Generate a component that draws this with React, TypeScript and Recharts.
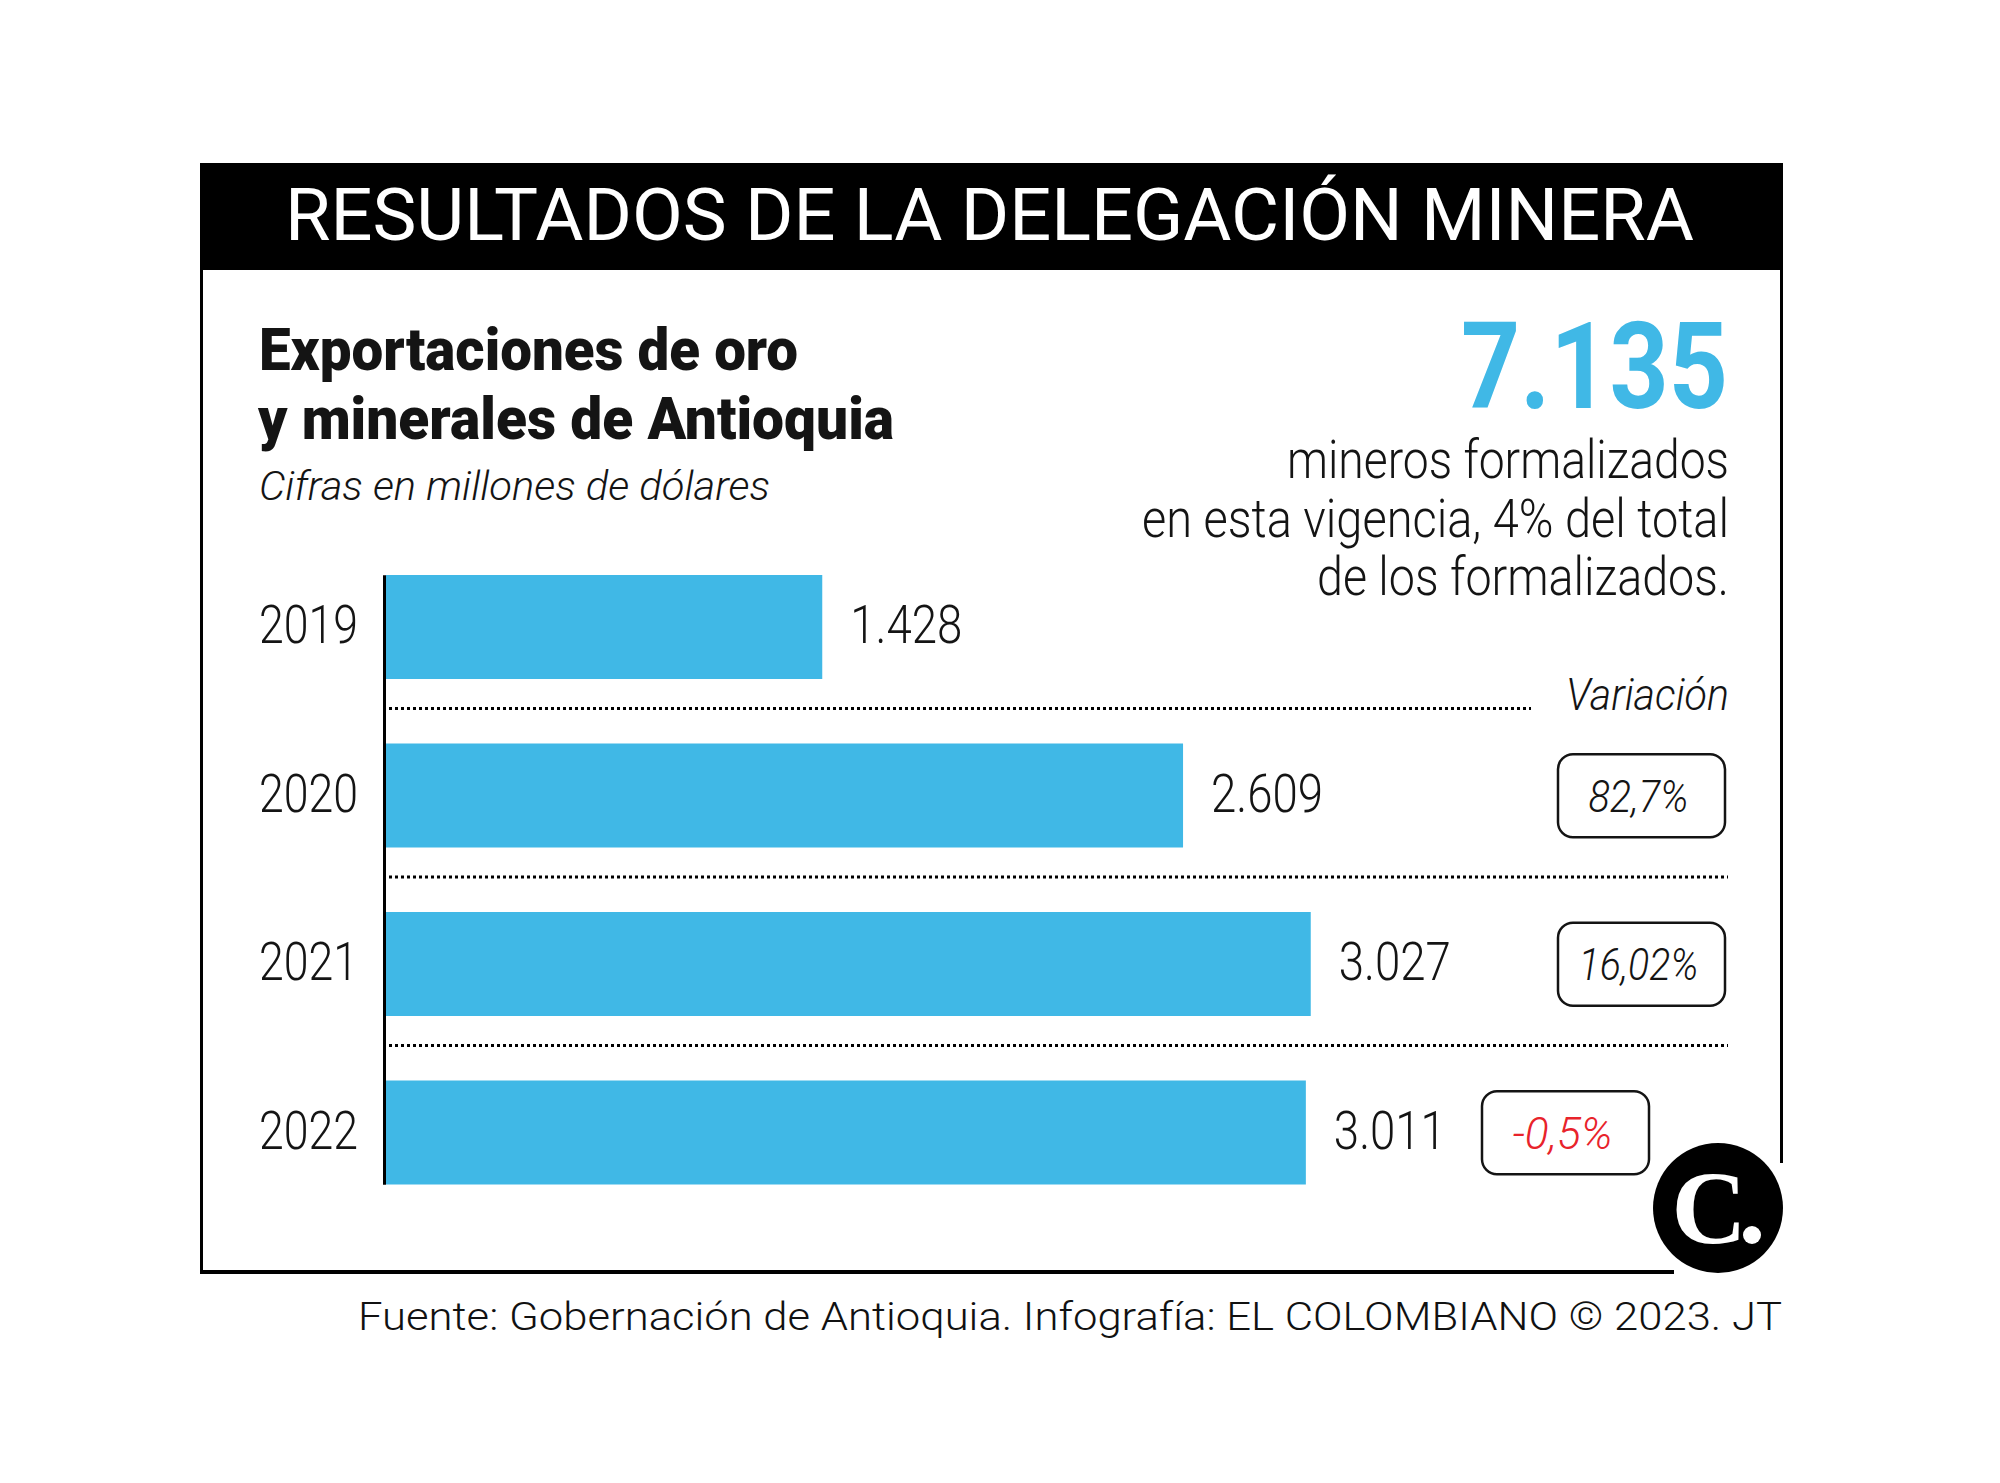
import React from "react";
import { Bar, BarChart, LabelList, XAxis, YAxis } from "recharts";

const YEARS = ["2019", "2020", "2021", "2022"];
const EXPORTS = [1428, 2609, 3027, 3011];
const VARIATION = [null, "82,7%", "16,02%", "-0,5%"];
const X_TICKS = [0, 4000];

const data = YEARS.map((year, i) => ({ year, value: EXPORTS[i], variation: VARIATION[i] }));

const BLUE = "#40B8E6";
const INK = "#141414";
const RED = "#E8232B";

// layout of the plot area
const W = 2000;
const H = 1483;
const PLOT_LEFT = 386;
const PLOT_WIDTH = 1222;
const PLOT_TOP = 543;
const PLOT_HEIGHT = 674;
const BAND = PLOT_HEIGHT / YEARS.length;
const BAR_SIZE = 104;
const AXIS_W = 100;

const fmt = (v: number) => String(v).replace(/\B(?=(\d{3})+(?!\d))/g, ".");

function T(props: any) {
  const { x, y, size, weight = 400, italic, anchor = "start", width, fill = INK, family = "Roboto", children } = props;
  return (
    <text
      x={x}
      y={y}
      fontFamily={family}
      fontSize={size}
      fontWeight={weight}
      fontStyle={italic ? "italic" : "normal"}
      textAnchor={anchor}
      fill={fill}
      textLength={width}
      lengthAdjust={width ? "spacingAndGlyphs" : undefined}
    >
      {children}
    </text>
  );
}

function ValueLabel(props: any) {
  const { x, y, width, height, value } = props;
  const s = fmt(value);
  return (
    <T x={Number(x) + Number(width) + 28} y={Number(y) + Number(height) / 2 + 16} size={54} weight={300} width={s.length * 22.4}>
      {s}
    </T>
  );
}

function YearTick(props: any) {
  const { y, payload } = props;
  const i = YEARS.indexOf(payload.value);
  const v = VARIATION[i];
  // the last box is pushed left to leave room for the logo
  const boxX = i === YEARS.length - 1 ? 1482 : 1558;
  const boxW = 167;
  const boxH = 83;
  const neg = v && v.startsWith("-");
  return (
    <g>
      <T x={PLOT_LEFT - 28} y={y + 16} size={54} weight={300} anchor="end" width={99}>
        {payload.value}
      </T>
      {v && (
        <g>
          <rect x={boxX} y={y - boxH / 2} width={boxW} height={boxH} rx={15} fill="#fff" stroke={INK} strokeWidth={2.5} />
          <T
            x={boxX + boxW / 2 - 3}
            y={y + 16}
            size={45}
            weight={300}
            italic
            anchor="middle"
            width={v.length * 20}
            fill={neg ? RED : INK}
          >
            {v}
          </T>
        </g>
      )}
    </g>
  );
}

function Decor() {
  const firstBarTop = PLOT_TOP + (BAND - BAR_SIZE) / 2;
  const lastBarBottom = PLOT_TOP + PLOT_HEIGHT - (BAND - BAR_SIZE) / 2;
  const dividers = [1, 2, 3].map((k) => PLOT_TOP + BAND * k - 3);
  return (
    <svg width={W} height={H} style={{ position: "absolute", left: 0, top: 0 }}>
      <rect x={0} y={0} width={W} height={H} fill="#fff" />
      {/* header */}
      <rect x={200} y={163} width={1583} height={107} fill="#000" />
      <T x={285} y={240} size={72} fill="#fff" width={1409}>
        RESULTADOS DE LA DELEGACIÓN MINERA
      </T>
      {/* frame */}
      <line x1={201.5} y1={165} x2={201.5} y2={1274} stroke="#000" strokeWidth={3} />
      <line x1={200} y1={1272} x2={1674} y2={1272} stroke="#000" strokeWidth={4} />
      <line x1={1781.5} y1={165} x2={1781.5} y2={1163} stroke="#000" strokeWidth={3} />
      {/* titles */}
      <T x={259} y={370} size={59} weight={900} width={539}>
        Exportaciones de oro
      </T>
      <T x={258} y={439} size={59} weight={900} width={636}>
        y minerales de Antioquia
      </T>
      <T x={259} y={500} size={41} weight={300} italic width={511}>
        Cifras en millones de dólares
      </T>
      {/* highlight figure */}
      <T x={1728} y={408} size={120} weight={700} anchor="end" fill={BLUE} width={267}>
        7.135
      </T>
      <T x={1729} y={478} size={53} weight={300} anchor="end" width={442}>
        mineros formalizados
      </T>
      <T x={1729} y={537} size={53} weight={300} anchor="end" width={587}>
        en esta vigencia, 4% del total
      </T>
      <T x={1729} y={595} size={53} weight={300} anchor="end" width={412}>
        de los formalizados.
      </T>
      <T x={1729} y={710} size={45} weight={300} italic anchor="end" width={163}>
        Variación
      </T>
      {/* dotted dividers */}
      {dividers.map((yy, k) => (
        <line
          key={k}
          x1={389}
          y1={yy}
          x2={k === 0 ? 1531 : 1728}
          y2={yy}
          stroke="#000"
          strokeWidth={3}
          strokeDasharray="3 3"
        />
      ))}
      {/* bar baseline */}
      <line x1={PLOT_LEFT - 1.5} y1={firstBarTop} x2={PLOT_LEFT - 1.5} y2={lastBarBottom} stroke="#000" strokeWidth={3} />
      {/* logo */}
      <circle cx={1718} cy={1208} r={65} fill="#000" />
      <text x={1709} y={1243} fontFamily="Liberation Serif" fontWeight={700} fontSize={104} textAnchor="middle" fill="#fff">
        C
      </text>
      <circle cx={1752} cy={1235} r={9} fill="#fff" />
      {/* source */}
      <T x={358} y={1330} size={39} weight={300} fill="#111" width={1424}>
        Fuente: Gobernación de Antioquia. Infografía: EL COLOMBIANO © 2023. JT
      </T>
    </svg>
  );
}

export default function App() {
  return (
    <div style={{ position: "absolute", left: 0, top: 0, width: W, height: H }}>
      <Decor />
      <div style={{ position: "absolute", left: 0, top: 0 }}>
        <BarChart
          width={W}
          height={H}
          data={data}
          layout="vertical"
          barSize={BAR_SIZE}
          margin={{
            top: PLOT_TOP,
            bottom: H - PLOT_TOP - PLOT_HEIGHT,
            left: PLOT_LEFT - AXIS_W,
            right: W - PLOT_LEFT - PLOT_WIDTH,
          }}
        >
          <XAxis type="number" domain={[X_TICKS[0], X_TICKS[1]]} hide />
          <YAxis
            type="category"
            dataKey="year"
            width={AXIS_W}
            axisLine={false}
            tickLine={false}
            tick={<YearTick />}
            interval={0}
          />
          <Bar dataKey="value" fill={BLUE} isAnimationActive={false}>
            <LabelList dataKey="value" content={<ValueLabel />} />
          </Bar>
        </BarChart>
      </div>
    </div>
  );
}
